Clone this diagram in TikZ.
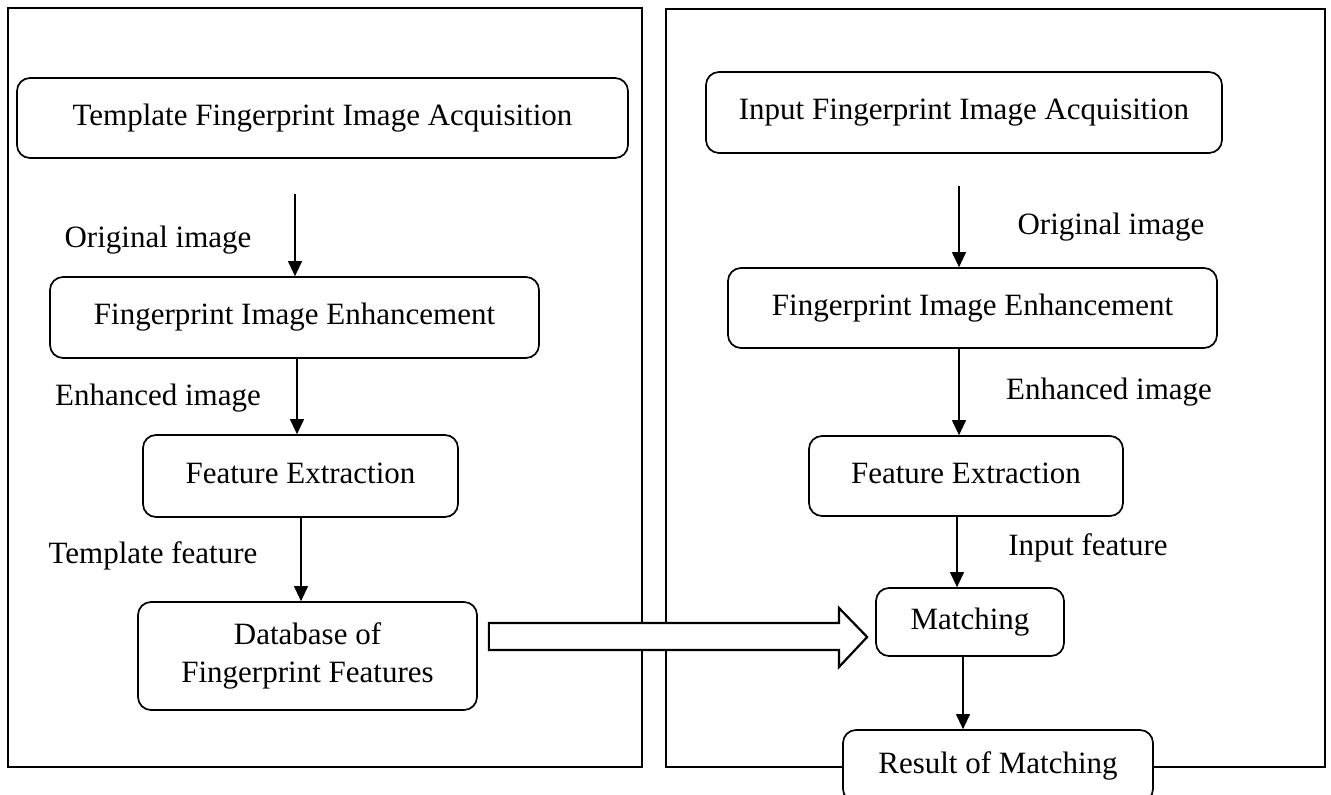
\documentclass[tikz,border=0pt]{standalone}
\usepackage{fontspec}
\setmainfont{Liberation Serif}
\usetikzlibrary{arrows.meta}
\begin{document}
\begin{tikzpicture}[x=1pt,y=-1pt,
  stepbox/.style={draw,line width=1.7pt,rounded corners=13pt,fill=white,align=center,inner sep=0pt},
  panel/.style={draw,line width=1.1pt},
  lbl/.style={inner sep=0pt,anchor=center},
  arr/.style={line width=1.1pt,-{Triangle[width=14pt,length=15pt]}},
  fat/.style={draw,line width=2.2pt,fill=white,line join=miter}
]
\useasboundingbox (0,0) rectangle (1331,795);
\fontsize{31}{38}\selectfont
% panels
\draw[panel] (8,8) rectangle (642,767);
\draw[panel] (666,9) rectangle (1325,767);
% left column
\node[stepbox,minimum width=611pt,minimum height=80pt] (t1) at (322.5,118) {\raisebox{5pt}{Template Fingerprint Image Acquisition}};
\node[stepbox,minimum width=489pt,minimum height=81pt] (t2) at (294.5,317.5) {\raisebox{5pt}{Fingerprint Image Enhancement}};
\node[stepbox,minimum width=315pt,minimum height=82pt] (t3) at (300.5,476) {\raisebox{6pt}{Feature Extraction}};
\node[stepbox,minimum width=339pt,minimum height=108pt] (t4) at (307.5,656) {Database of\\Fingerprint Features};
\coordinate (a1) at (295,194);
\draw[arr] (a1) -- (a1 |- t2.north);
\coordinate (a2) at (297,0);
\draw[arr] (a2 |- t2.south) -- (a2 |- t3.north);
\coordinate (a3) at (301,0);
\draw[arr] (a3 |- t3.south) -- (a3 |- t4.north);
\node[lbl] (l1) at (158,240) {Original image};
\node[lbl] (l2) at (158,398) {Enhanced image};
\node[lbl] (l3) at (153,556) {Template feature};
% right column
\node[stepbox,minimum width=516pt,minimum height=81pt] (r1) at (964,112.5) {\raisebox{5pt}{Input Fingerprint Image Acquisition}};
\node[stepbox,minimum width=489pt,minimum height=80pt] (r2) at (972.5,308) {\raisebox{5pt}{Fingerprint Image Enhancement}};
\node[stepbox,minimum width=314pt,minimum height=80pt] (r3) at (966,476) {\raisebox{6pt}{Feature Extraction}};
\node[stepbox,minimum width=188pt,minimum height=68pt] (r4) at (970,622) {Matching};
\node[stepbox,minimum width=310pt,minimum height=72pt] (r5) at (998,766) {Result of Matching};
\coordinate (b1) at (959,186);
\draw[arr] (b1) -- (b1 |- r2.north);
\draw[arr] (b1 |- r2.south) -- (b1 |- r3.north);
\coordinate (b3) at (957,0);
\draw[arr] (b3 |- r3.south) -- (b3 |- r4.north);
\coordinate (b4) at (963,0);
\draw[arr] (b4 |- r4.south) -- (b4 |- r5.north);
\node[lbl] (m1) at (1111,227) {Original image};
\node[lbl] (m2) at (1109,392) {Enhanced image};
\node[lbl] (m3) at (1088,548) {Input feature};
% big hollow arrow
\coordinate (s0) at ([xshift=11pt]t4.east |- 0,623);
\coordinate (tip) at ([xshift=-8pt]r4.west |- 0,637);
\draw[fat] (s0) -- (839,623) -- (839,608) -- (tip) -- (839,667) -- (839,650) -- (s0 |- 0,650) -- cycle;
\end{tikzpicture}
\end{document}
